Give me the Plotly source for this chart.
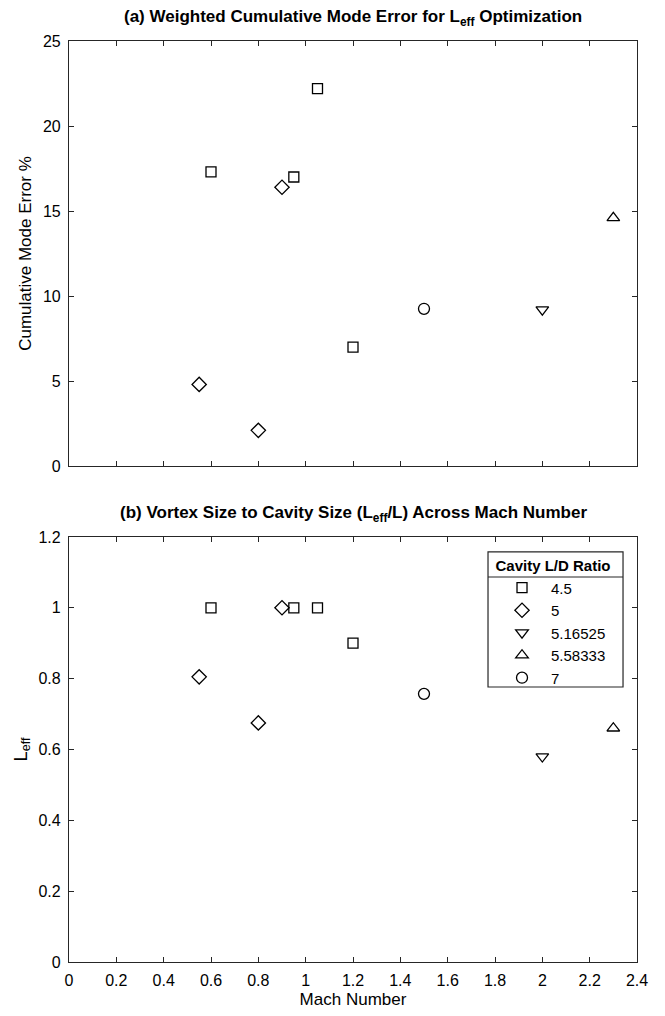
import plotly.graph_objects as go
from plotly.subplots import make_subplots

series_names = ["4.5", "5", "5.16525", "5.58333", "7"]
symbols = ["square-open", "diamond-open", "triangle-down-open", "triangle-up-open", "circle-open"]

mach = {
    "4.5": [0.6, 0.95, 1.05, 1.2],
    "5": [0.55, 0.8, 0.9],
    "5.16525": [2.0],
    "5.58333": [2.3],
    "7": [1.5],
}
mode_error = {
    "4.5": [17.3, 17.0, 22.2, 7.0],
    "5": [4.8, 2.1, 16.4],
    "5.16525": [9.2],
    "5.58333": [14.6],
    "7": [9.25],
}
leff = {
    "4.5": [1.0, 1.0, 1.0, 0.9],
    "5": [0.805, 0.675, 1.0],
    "5.16525": [0.58],
    "5.58333": [0.66],
    "7": [0.757],
}

FONT = "Liberation Sans, Arial, Helvetica, sans-serif"
INK = "#262626"

fig = make_subplots(rows=2, cols=1)

sizes = {"square-open": 10, "diamond-open": 11, "triangle-down-open": 11,
         "triangle-up-open": 11, "circle-open": 11}

for name, sym in zip(series_names, symbols):
    mk = dict(symbol=sym, size=sizes[sym], color="black", line=dict(color="black", width=1.3))
    fig.add_trace(go.Scatter(x=mach[name], y=mode_error[name], mode="markers", name=name,
                             showlegend=False, marker=mk), row=1, col=1)
    fig.add_trace(go.Scatter(x=mach[name], y=leff[name], mode="markers", name=name,
                             marker=mk), row=2, col=1)

axis_common = dict(showline=True, linecolor=INK, linewidth=1.2, mirror="ticks", ticks="inside",
                   ticklen=5, tickcolor=INK, showgrid=False, zeroline=False,
                   ticklabelstandoff=4,
                   tickfont=dict(family=FONT, size=16, color="black"))

fig.update_xaxes(range=[0, 2.4], dtick=0.2, tick0=0, **axis_common)
fig.update_xaxes(showticklabels=False, row=1, col=1)
fig.update_xaxes(title=dict(text="Mach Number", font=dict(family=FONT, size=17, color="black"), standoff=4), row=2, col=1)
fig.update_yaxes(**axis_common)
fig.update_yaxes(range=[0, 25], dtick=5, row=1, col=1,
                 title=dict(text="Cumulative Mode Error %", font=dict(family=FONT, size=17, color="black"), standoff=6))
fig.update_yaxes(range=[0, 1.2], dtick=0.2, row=2, col=1,
                 title=dict(text="L<sub>eff</sub>", font=dict(family=FONT, size=18, color="black"), standoff=6))

fig.update_layout(
    width=665, height=1016,
    margin=dict(l=69, r=28, t=41, b=54),
    plot_bgcolor="white", paper_bgcolor="white",
    xaxis=dict(domain=[0, 1]), xaxis2=dict(domain=[0, 1]),
    yaxis=dict(domain=[0.5385, 1.0]), yaxis2=dict(domain=[0.0, 0.4615]),
    legend=dict(x=0.7465, y=0.4452, xanchor="left", yanchor="top",
                borderwidth=0, bgcolor="rgba(0,0,0,0)",
                title=dict(text="<b>Cavity L/D Ratio</b>", font=dict(family=FONT, size=15, color="black"),
                           side="top center"),
                font=dict(family=FONT, size=15, color="black"), tracegroupgap=0, itemwidth=48),
    shapes=[
        dict(type="rect", xref="paper", yref="paper", x0=0.7377, x1=0.9754, y0=0.2986, y1=0.4452,
             line=dict(color=INK, width=1.2), fillcolor="white", layer="above"),
        dict(type="line", xref="paper", yref="paper", x0=0.7377, x1=0.9754, y0=0.418, y1=0.418,
             line=dict(color=INK, width=1.2), layer="above"),
    ],
    annotations=[
        dict(text="<b>(a) Weighted Cumulative Mode Error for L<sub>eff</sub> Optimization</b>",
             x=0.5, y=1.0, xref="paper", yref="paper", xanchor="center", yanchor="middle",
             yshift=23, showarrow=False, font=dict(family=FONT, size=17, color="black")),
        dict(text="<b>(b) Vortex Size to Cavity Size (L<sub>eff</sub>/L) Across Mach Number</b>",
             x=0.5, y=0.4615, xref="paper", yref="paper", xanchor="center", yanchor="middle",
             yshift=23, showarrow=False, font=dict(family=FONT, size=17, color="black")),
    ],
)

fig.write_html("out.html")
